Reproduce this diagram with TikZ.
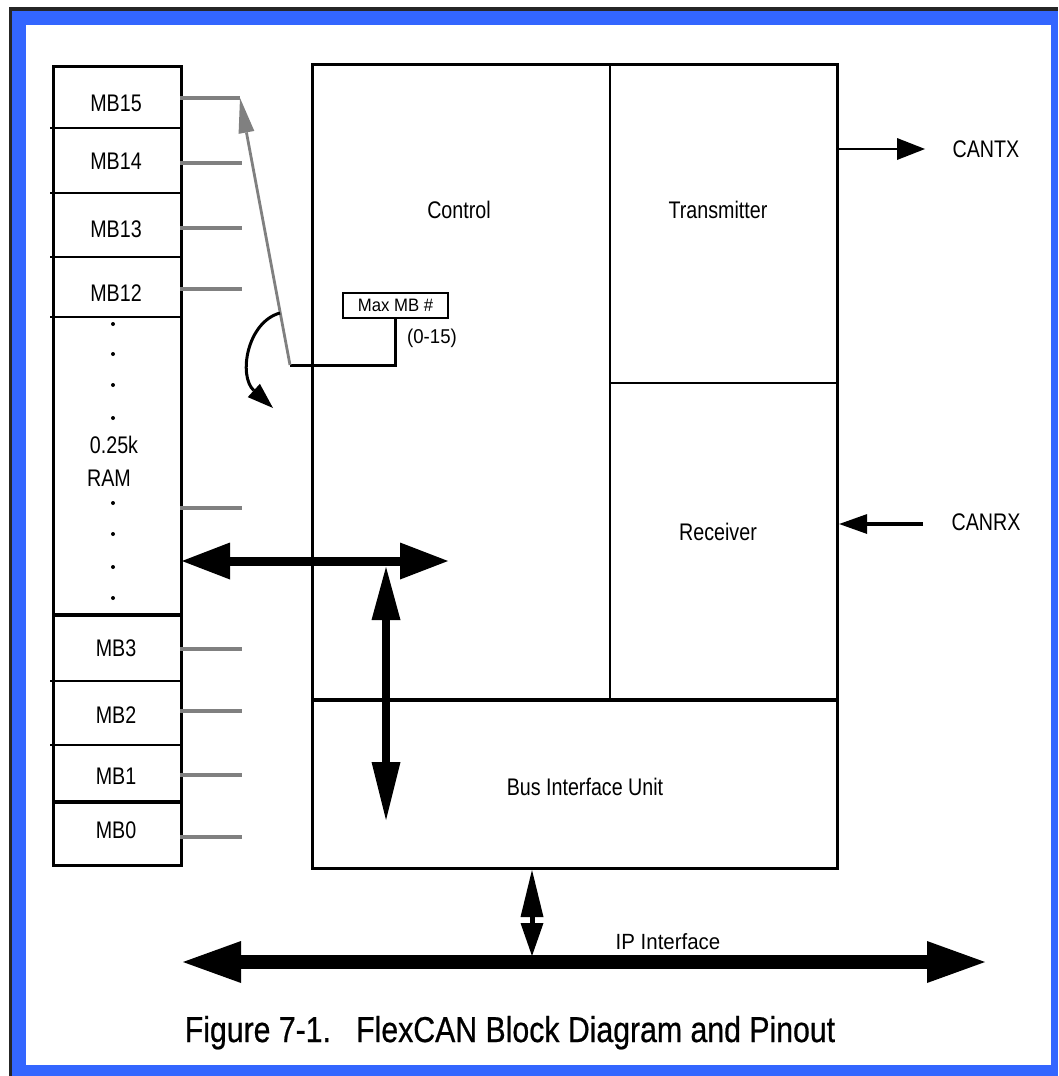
\documentclass[tikz,border=0pt]{standalone}
\usepackage{fontspec}
\setmainfont{Liberation Sans}
\newfontfamily\narrowfont{Liberation Sans}[FakeStretch=0.82]
\newfontfamily\mednarrow{Liberation Sans}[FakeStretch=0.93]
\newfontfamily\capfont{Liberation Sans}[FakeStretch=0.84,FakeBold=0.6]
\usetikzlibrary{arrows.meta}
\definecolor{frameblue}{RGB}{51,102,255}
\definecolor{stubgray}{RGB}{128,128,128}
\begin{document}
\begin{tikzpicture}[x=1pt,y=-1pt,
  lbl/.style={font=\narrowfont\fontsize{24}{28}\selectfont, inner sep=0pt},
  smalllbl/.style={font=\mednarrow\fontsize{20}{22}\selectfont, inner sep=0pt},
  stub/.style={draw=stubgray, line width=3.2pt},
  sepline/.style={line width=1.8pt},
  heavysep/.style={line width=3.5pt},
  boxline/.style={line width=3.2pt},
]
% ---- frame ----
\useasboundingbox (0,0) rectangle (1058,1076);
\fill[white] (0,0) rectangle (1058,1076);
\fill[black!85] (9,7) rectangle (1058,11);
\fill[black!85] (9,7) rectangle (12,1076);
\fill[frameblue] (12,11) rectangle (1058,1076);
\fill[white] (26,25) rectangle (1051,1065);

% ---- RAM column ----
\node[draw, boxline, minimum width=128pt, minimum height=799pt, anchor=north west, inner sep=0pt] (ram) at (52,65) {};
\foreach \yy in {128,193,257,317,681,745} \draw[sepline] (50,\yy) -- (181,\yy);
\foreach \yy in {615,802} \draw[heavysep] (52,\yy) -- (180,\yy);

\node[lbl] (mb15) at (116,103) {MB15};
\node[lbl] (mb14) at (116,161) {MB14};
\node[lbl] (mb13) at (116,229) {MB13};
\node[lbl] (mb12) at (116,293) {MB12};
\node[lbl] (mb3) at (116,648) {MB3};
\node[lbl] (mb2) at (116,715) {MB2};
\node[lbl] (mb1) at (116,776) {MB1};
\node[lbl] (mb0) at (116,830) {MB0};
\foreach \yy in {324,354,385,418,503,534,567,598} \fill (113,\yy) circle (2pt);
\node[lbl] (ramsize) at (114,445) {0.25k};
\node[lbl] (ramlbl) at (109,478) {RAM};

% gray stubs
\coordinate (mbtop) at (240,98);
\draw[stub] (180,98) -- (mbtop);
\foreach \yy in {163,228,289,508,649,711,775,837} \draw[stub] (180,\yy) -- (242,\yy);

% ---- main block ----
\node[draw, boxline, minimum width=525pt, minimum height=804pt, anchor=north west, inner sep=0pt] (main) at (311,63) {};
\draw[sepline] (610,63) -- (610,700);
\draw[sepline] (610,383) -- (838,383);
\draw[boxline] (311,700) -- (836,700);

\node[lbl] (control) at (459,210) {Control};
\node[lbl] (tx) at (718,210) {Transmitter};
\node[lbl] (rx) at (718,532) {Receiver};
\node[lbl] (biu) at (585,787) {Bus Interface Unit};

% Max MB box
\node[draw, line width=2pt, minimum width=105pt, minimum height=25pt, inner sep=0pt, font=\mednarrow\fontsize{18}{20}\selectfont] (maxmb) at (395.5,305.5) {Max MB \#};
\node[smalllbl] (range) at (432,338) {(0-15)};

\coordinate (bend) at (290,365);
\draw[line width=3pt] (bend) -- (bend -| maxmb.south) -- (maxmb.south);
\draw[draw=stubgray, fill=stubgray, line width=2.8pt, -{Triangle[length=35pt,width=16pt,line width=0pt]}] (bend) -- (mbtop);

% curved arrow
\coordinate (curvs) at (280,313);
\coordinate (curve) at (273,408);
\draw[line width=3pt, -{Triangle[length=26pt,width=18pt,line width=0pt]}] (curvs) .. controls (247,322) and (238,376) .. (curve);

% CANTX / CANRX
\node[lbl] (cantx) at (986,149) {CANTX};
\node[lbl] (canrx) at (986,522) {CANRX};
\coordinate (txend) at (925,149);
\coordinate (rxstart) at (923,524);
\draw[line width=2pt, -{Triangle[length=28pt,width=22pt,line width=0pt]}] (main.east |- txend) -- (txend);
\draw[line width=4pt, -{Triangle[length=28pt,width=20pt,line width=0pt]}] (rxstart) -- (main.east |- rxstart);

% internal buses
\coordinate (hbl) at (182,561);
\coordinate (hbr) at (448,561);
\draw[line width=9pt, {Triangle[length=48pt,width=37pt,line width=0pt]}-{Triangle[length=48pt,width=37pt,line width=0pt]}] (hbl) -- (hbr);
\coordinate (vbt) at (386,567);
\coordinate (vbb) at (386,820);
\draw[line width=8pt, {Triangle[length=53pt,width=29pt,line width=0pt]}-{Triangle[length=58pt,width=29pt,line width=0pt]}] (vbt) -- (vbb);

% IP interface
\coordinate (ipl) at (183,962);
\coordinate (ipr) at (985,962);
\draw[line width=14pt, {Triangle[length=58pt,width=42pt,line width=0pt]}-{Triangle[length=58pt,width=42pt,line width=0pt]}] (ipl) -- (ipr);
\coordinate (ipt) at (532,870);
\coordinate (ipb) at (532,956);
\draw[line width=5pt, {Triangle[length=47pt,width=23pt,line width=0pt]}-{Triangle[length=33pt,width=23pt,line width=0pt]}] (ipt) -- (ipb);
\node[font=\mednarrow\fontsize{22}{24}\selectfont, inner sep=0pt, anchor=base] (iplbl) at (668,949) {IP Interface};

% caption
\node[font=\capfont\fontsize{36}{40}\selectfont, inner sep=0pt, anchor=base] (caption) at (510,1042) {Figure 7-1.\ \ \ FlexCAN Block Diagram and Pinout};
\end{tikzpicture}
\end{document}
